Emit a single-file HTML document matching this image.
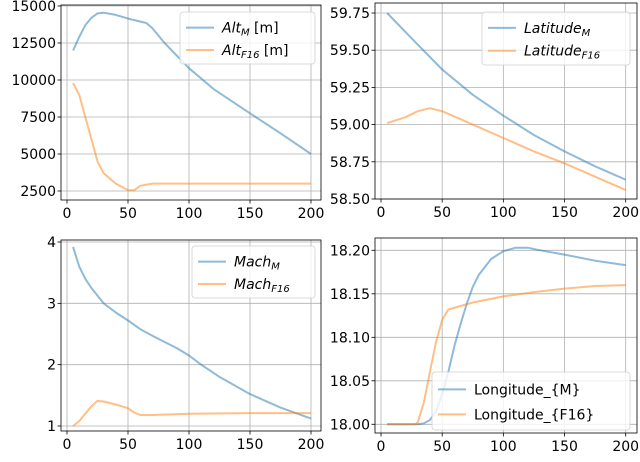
<!DOCTYPE html>
<html><head><meta charset="utf-8"><style>
body{margin:0;background:#fff;}
svg{font-family:"DejaVu Sans","Liberation Sans",sans-serif;}
</style></head><body>
<svg id="c" width="640" height="457" xmlns="http://www.w3.org/2000/svg"></svg>
<script>
const xsAltM=[5,10,15,20,25,30,40,50,60,65,70,80,100,120,140,150,175,200];
const altM=[12000,12900,13700,14200,14500,14550,14400,14150,13950,13850,13500,12500,10800,9400,8300,7750,6400,5000];
const xsAltF=[5,10,15,20,25,30,40,50,55,60,70,100,200];
const altF=[9800,9000,7500,6000,4500,3700,3000,2550,2550,2850,3000,3000,3000];
const xsLat=[5,25,50,75,100,125,150,175,200];
const latM=[59.75,59.58,59.37,59.2,59.06,58.93,58.82,58.72,58.63];
const xsLatF=[5,20,30,40,50,75,100,125,150,175,200];
const latF=[59.01,59.05,59.09,59.11,59.09,59.0,58.91,58.82,58.74,58.65,58.56];
const xsMachM=[5,10,15,20,30,40,50,60,70,80,90,100,110,125,150,175,200];
const machM=[3.92,3.6,3.4,3.25,3.0,2.85,2.72,2.58,2.47,2.37,2.27,2.15,2.0,1.8,1.52,1.3,1.12];
const xsMachF=[5,10,15,20,25,30,40,50,55,60,70,100,150,200];
const machF=[1.0,1.08,1.2,1.32,1.41,1.4,1.35,1.29,1.22,1.18,1.18,1.2,1.21,1.21];
const xsLonM=[5,30,35,40,45,50,55,60,65,70,75,80,90,100,110,120,130,150,175,200];
const lonM=[18.0,18.0,18.001,18.005,18.015,18.035,18.06,18.09,18.115,18.138,18.158,18.172,18.19,18.199,18.203,18.203,18.2,18.195,18.188,18.183];
const xsLonF=[5,28,30,35,40,45,50,55,75,100,125,150,175,200];
const lonF=[18.0,18.0,18.002,18.025,18.06,18.095,18.12,18.132,18.14,18.147,18.152,18.156,18.159,18.16];
const xTicks=[0,50,100,150,200];

const NS="http://www.w3.org/2000/svg";
const svg=document.getElementById('c');
function mk(t,a,p){const e=document.createElementNS(NS,t);for(const k in a)e.setAttribute(k,a[k]);(p||svg).appendChild(e);return e;}

const panels=[
 {name:'altitude',L:61,R:321,T:5,B:200,x0:67,x1:311,yv:[15000,2500],yp:[6,191],yt:[2500,5000,7500,10000,12500,15000],yl:['2500','5000','7500','10000','12500','15000'],
  s:[[xsAltM,altM],[xsAltF,altF]],leg:{x:180,y:12,w:135,h:52},labels:['Alt<tspan font-size="10" dy="3">M</tspan><tspan dy="-3" font-style="normal"> [m]</tspan>','Alt<tspan font-size="10" dy="3">F16</tspan><tspan dy="-3" font-style="normal"> [m]</tspan>'],ital:true},
 {name:'latitude',L:375,R:637,T:3,B:199,x0:381,x1:625.7,yv:[59.75,58.5],yp:[13,199],yt:[58.5,58.75,59,59.25,59.5,59.75],yl:['58.50','58.75','59.00','59.25','59.50','59.75'],
  s:[[xsLat,latM],[xsLatF,latF]],leg:{x:482,y:12,w:148,h:53},labels:['Latitude<tspan font-size="10" dy="3">M</tspan>','Latitude<tspan font-size="10" dy="3">F16</tspan>'],ital:true},
 {name:'mach',L:61,R:321,T:240,B:431,x0:67,x1:311,yv:[4,1],yp:[242,426],yt:[1,2,3,4],yl:['1','2','3','4'],
  s:[[xsMachM,machM],[xsMachF,machF]],leg:{x:192,y:246,w:123,h:52},labels:['Mach<tspan font-size="10" dy="3">M</tspan>','Mach<tspan font-size="10" dy="3">F16</tspan>'],ital:true},
 {name:'longitude',L:375,R:637,T:238,B:433,x0:381,x1:625.7,yv:[18.2,18.0],yp:[250.3,424.3],yt:[18.0,18.05,18.1,18.15,18.2],yl:['18.00','18.05','18.10','18.15','18.20'],
  s:[[xsLonM,lonM],[xsLonF,lonF]],leg:{x:432,y:372,w:198,h:58},labels:['Longitude_{M}','Longitude_{F16}'],ital:false}
];
const cols=['#1f77b4','#ff7f0e'];
panels.forEach(p=>{
 const g=mk('g',{});
 
 
 const X=v=>p.x0+(v)/200*(p.x1-p.x0);
 const Y=v=>p.yp[0]+(v-p.yv[0])/(p.yv[1]-p.yv[0])*(p.yp[1]-p.yp[0]);
 xTicks.forEach((t,i)=>{const x=X(t);
  const gl=mk('line',{x1:x,x2:x,y1:p.T,y2:p.B,stroke:'#b0b0b0','stroke-width':0.8},g);
  
  mk('line',{x1:x,x2:x,y1:p.B,y2:p.B+3.5,stroke:'#000','stroke-width':0.8},g);
  const tx=mk('text',{x:x,y:p.B+18,'font-size':14,'text-anchor':'middle'},g);tx.textContent=String(t);
  });
 p.yt.forEach((t,i)=>{const y=Y(t);
  const gl=mk('line',{x1:p.L,x2:p.R,y1:y,y2:y,stroke:'#b0b0b0','stroke-width':0.8},g);
  
  mk('line',{x1:p.L-3.5,x2:p.L,y1:y,y2:y,stroke:'#000','stroke-width':0.8},g);
  const tx=mk('text',{x:p.L-5,y:y+5,'font-size':14,'text-anchor':'end'},g);tx.textContent=p.yl[i];
  });
 p.s.forEach((s,k)=>{
  const d=s[0].map((x,i)=>(i?'L':'M')+X(x).toFixed(1)+','+Y(s[1][i]).toFixed(1)).join('');
  const pa=mk('path',{d:d,fill:'none',stroke:cols[k],'stroke-width':2,'stroke-opacity':0.5,'stroke-linejoin':'round'},g);
  
 });
 const fr=mk('rect',{x:p.L,y:p.T,width:p.R-p.L,height:p.B-p.T,fill:'none',stroke:'#000','stroke-width':0.8},g);
 
 const lg=mk('g',{},g);
 
 mk('rect',{x:p.leg.x,y:p.leg.y,width:p.leg.w,height:p.leg.h,rx:3,fill:'#fff','fill-opacity':0.8,stroke:'#d0d0d0','stroke-width':0.8},lg);
 [0,1].forEach(k=>{const cy=p.leg.y+p.leg.h*(k?0.73:0.3);
  mk('line',{x1:p.leg.x+6,x2:p.leg.x+34,y1:cy,y2:cy,stroke:cols[k],'stroke-width':2,'stroke-opacity':0.5},lg);
  const tx=mk('text',{x:p.leg.x+42,y:cy+5,'font-size':14,'font-style':p.ital?'italic':'normal'},lg);tx.innerHTML=p.labels[k];
  });
});
</script>
</body></html>
